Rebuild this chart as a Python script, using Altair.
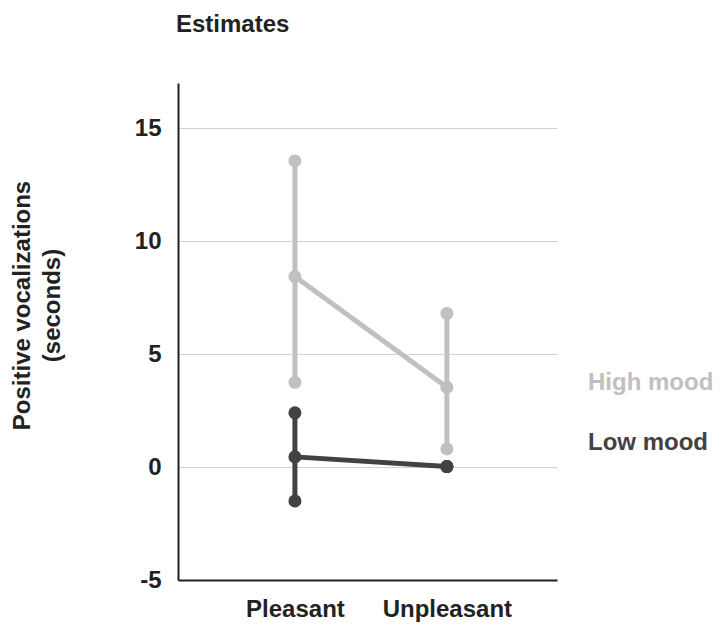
import altair as alt
import pandas as pd

conditions = ["Pleasant", "Unpleasant"]
groups = ["High mood", "Low mood"]
high_mean = [8.43, 3.53]
high_lo = [3.75, 0.80]
high_hi = [13.55, 6.80]
low_mean = [0.45, 0.02]
low_lo = [-1.50, 0.02]
low_hi = [2.40, 0.02]
y_ticks = [-5, 0, 5, 10, 15]
group_colors = ["#c0c0c0", "#424242"]

rows = []
for g, m, lo, hi in [("High mood", high_mean, high_lo, high_hi),
                     ("Low mood", low_mean, low_lo, low_hi)]:
    for i, c in enumerate(conditions):
        rows.append({"group": g, "cond": c, "mean": m[i], "lo": lo[i], "hi": hi[i]})
df = pd.DataFrame(rows)

FONT = "Liberation Sans"
W, H = 379, 497

x = alt.X("cond:N", sort=conditions, title=None,
          scale=alt.Scale(type="point", padding=0.747, align=0.515),
          axis=alt.Axis(labelAngle=0, ticks=False, labelPadding=17,
                        labelFontSize=24, labelFontWeight="bold", labelColor="#222222",
                        labelFont=FONT, domainColor="#222222", domainWidth=2, grid=False))
y_scale = alt.Scale(domain=[-5, 17], nice=False, zero=False)
color = alt.Color("group:N", scale=alt.Scale(domain=groups, range=group_colors), legend=None)

base = alt.Chart(df)

rules = base.mark_rule(strokeWidth=5).encode(
    x=x,
    y=alt.Y("lo:Q", scale=y_scale, title=["Positive vocalizations", "(seconds)"],
            axis=alt.Axis(values=y_ticks, ticks=False, labelPadding=17,
                          labelExpr="'' + datum.value",
                          labelFontSize=24, labelFontWeight="bold", labelColor="#222222",
                          labelFont=FONT, labelBaseline="middle",
                          domainColor="#222222", domainWidth=2,
                          gridColor="#d0d0d0", gridWidth=1,
                          titleFont=FONT, titleFontSize=24, titleFontWeight="bold",
                          titleColor="#222222", titleAngle=-90, titleAlign="center",
                          titleBaseline="top", titleX=-168, titleY=222,
                          titleLineHeight=30)),
    y2="hi:Q",
    color=color,
)

lines = base.mark_line(strokeWidth=5).encode(
    x=x, y=alt.Y("mean:Q", scale=y_scale), color=color, detail="group:N")

pts = []
for fld in ["lo", "hi", "mean"]:
    pts.append(base.mark_point(filled=True, size=170, opacity=1).encode(
        x=x, y=alt.Y(f"{fld}:Q", scale=y_scale), color=color))

lab_df = pd.DataFrame({"group": groups, "py": [300, 360]})
labels = alt.Chart(lab_df).mark_text(
    align="left", baseline="middle", fontSize=24, fontWeight="bold", font=FONT
).encode(
    x=alt.value(410), y=alt.Y("py:Q", scale=None), text="group:N", color=color)

chart = alt.layer(rules, lines, *pts, labels).properties(
    width=W, height=H,
    title=alt.TitleParams("Estimates", anchor="start", frame="group", fontSize=24,
                          fontWeight="bold", font=FONT, color="#222222",
                          offset=46, dx=-2),
    autosize=alt.AutoSizeParams(type="none"),
    padding={"left": 170, "top": 75, "right": 156, "bottom": 48},
).configure_view(stroke=None)

chart.save("out.html", embed_options={"renderer": "svg", "actions": False})
